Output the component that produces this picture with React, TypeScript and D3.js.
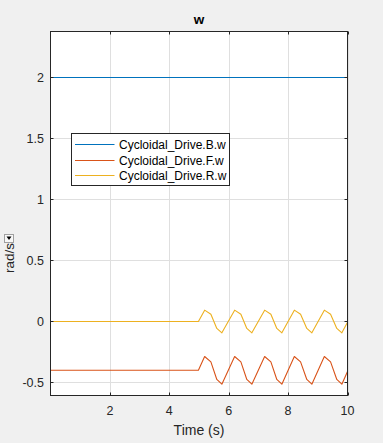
import React from "react";
import * as d3 from "d3";

// ---- data ----
const timeB = [0, 10];
const valuesB = [2, 2];

const timeOsc = [0, 4.98, 5.19, 5.40, 5.60, 5.77, 6.20, 6.41, 6.61, 6.78, 7.21, 7.42, 7.62, 7.79, 8.21, 8.42, 8.63, 8.80, 9.22, 9.43, 9.64, 9.81, 10.0];
const valuesF = [-0.4, -0.4, -0.287, -0.331, -0.475, -0.514, -0.287, -0.331, -0.475, -0.514, -0.287, -0.331, -0.475, -0.514, -0.287, -0.331, -0.475, -0.514, -0.287, -0.331, -0.475, -0.514, -0.41];
const valuesR = [0, 0, 0.093, 0.060, -0.057, -0.093, 0.093, 0.060, -0.057, -0.093, 0.093, 0.060, -0.057, -0.093, 0.093, 0.060, -0.057, -0.093, 0.093, 0.060, -0.057, -0.093, -0.007];

const seriesNames = ["Cycloidal_Drive.B.w", "Cycloidal_Drive.F.w", "Cycloidal_Drive.R.w"];
const seriesColors = ["#0072BD", "#D95319", "#EDB120"];

const xTicks = [2, 4, 6, 8, 10];
const yTicks = [-0.5, 0, 0.5, 1, 1.5, 2];
const yTickLabels = ["-0.5", "0", "0.5", "1", "1.5", "2"];
const xDomain = [0, 10];
const yDomain = [-0.604, 2.385];

const titleText = "w";
const xLabel = "Time (s)";
const yLabel = "rad/s";

export default function App() {
  const W = 383, H = 443;
  const left = 50.5, right = 347.5;
  // y: 0 -> 321.5, 2 -> 77.5 (122 px per unit)
  const y = d3.scaleLinear().domain([0, 2]).range([321.5, 77.5]);
  const top = y(yDomain[1]);
  const bottom = y(yDomain[0]);
  const x = d3.scaleLinear().domain(xDomain).range([left, right]);
  const font = "'Liberation Sans', Arial, Helvetica, sans-serif";
  const axisColor = "#262626";
  const gridColor = "#dfdfdf";
  const tick = 3;

  const mk = (ts: number[], vs: number[]) =>
    d3.line<number>().x((_, i) => x(ts[i])).y((v) => y(v))(vs) as string;

  const series = [
    { t: timeB, v: valuesB },
    { t: timeOsc, v: valuesF },
    { t: timeOsc, v: valuesR },
  ];

  const legX = 71.5, legY = 133.5, legW = 158, legH = 52;
  const legRows = [144.5, 160.5, 175.5];
  const bTop = Math.round(top) + 0.5;
  const bBot = Math.round(bottom) + 0.5;

  return (
    <svg width={W} height={H} style={{ position: "absolute", left: 0, top: 0, background: "#f0f0f0" }} fontFamily={font}>
      <rect x={0} y={0} width={W} height={H} fill="#f0f0f0" />
      <rect x={left} y={bTop} width={right - left} height={bBot - bTop} fill="#ffffff" />
      {/* grid */}
      {xTicks.map((t) => (
        <line key={"gx" + t} x1={Math.round(x(t)) + 0.5} x2={Math.round(x(t)) + 0.5} y1={bTop} y2={bBot} stroke={gridColor} strokeWidth={1} />
      ))}
      {yTicks.map((t) => (
        <line key={"gy" + t} x1={left} x2={right} y1={y(t)} y2={y(t)} stroke={gridColor} strokeWidth={1} />
      ))}
      {/* data */}
      <clipPath id="clip">
        <rect x={left} y={bTop} width={right - left} height={bBot - bTop} />
      </clipPath>
      <g clipPath="url(#clip)">
        {series.map((s, i) => (
          <path key={i} d={mk(s.t, s.v)} fill="none" stroke={seriesColors[i]} strokeWidth={1.1} strokeLinejoin="round" />
        ))}
      </g>
      {/* box */}
      <rect x={left} y={bTop} width={right - left} height={bBot - bTop} fill="none" stroke={axisColor} strokeWidth={1} />
      {/* ticks */}
      {xTicks.map((t) => {
        const px = Math.round(x(t)) + 0.5;
        return (
          <g key={"tx" + t}>
            <line x1={px} x2={px} y1={bBot} y2={bBot - tick} stroke={axisColor} />
            <line x1={px} x2={px} y1={bTop} y2={bTop + tick} stroke={axisColor} />
            <text x={x(t)} y={415} fontSize={12.5} fill={axisColor} textAnchor="middle">{t}</text>
          </g>
        );
      })}
      {yTicks.map((t, i) => (
        <g key={"ty" + t}>
          <line x1={left} x2={left + tick} y1={y(t)} y2={y(t)} stroke={axisColor} />
          <line x1={right} x2={right - tick} y1={y(t)} y2={y(t)} stroke={axisColor} />
          <text x={left - 6.5} y={y(t)} dy="0.36em" fontSize={12.5} fill={axisColor} textAnchor="end">{yTickLabels[i]}</text>
        </g>
      ))}
      {/* title */}
      <text x={(left + right) / 2} y={24} fontSize={13.5} fontWeight="bold" textAnchor="middle" fill="#000">{titleText}</text>
      {/* x label */}
      <text x={(left + right) / 2} y={435} fontSize={14} textAnchor="middle" fill={axisColor}>{xLabel}</text>
      {/* y label with dropdown icon */}
      <g>
        <rect x={4.5} y={234.5} width={9} height={8} fill="#f8f8f8" stroke="#a0a0a0" />
        <path d="M6.5,236.5 L11.5,236.5 L9,240 Z" fill="#000" />
        <text transform={`translate(14,258) rotate(-90)`} fontSize={13.5} textAnchor="middle" fill={axisColor}>{yLabel}</text>
      </g>
      {/* legend */}
      <rect x={legX} y={legY} width={legW} height={legH} fill="#ffffff" stroke={axisColor} strokeWidth={1} />
      {seriesNames.map((n, i) => (
        <g key={n}>
          <line x1={75} x2={114.5} y1={legRows[i]} y2={legRows[i]} stroke={seriesColors[i]} strokeWidth={1} />
          <text x={119} y={legRows[i]} dy="0.36em" fontSize={12} fill="#000">{n}</text>
        </g>
      ))}
    </svg>
  );
}
